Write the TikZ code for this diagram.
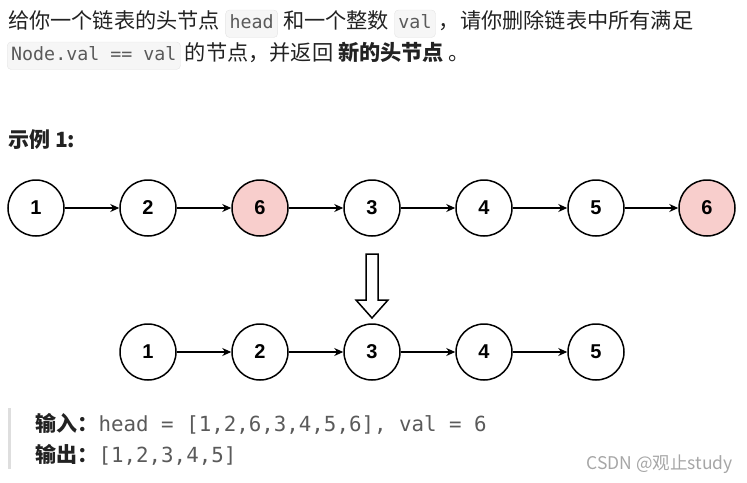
\documentclass[tikz,border=0pt]{standalone}
\usepackage{fontspec}
\setmainfont{Liberation Sans}
\setmonofont{DejaVu Sans Mono}
\newfontfamily\cjk{Noto Sans CJK SC}
\usetikzlibrary{positioning}
\usetikzlibrary{arrows.meta}
\definecolor{txt}{HTML}{222222}
\definecolor{codebg}{HTML}{F6F6F6}
\definecolor{codeln}{HTML}{E4E4E4}
\definecolor{codetx}{HTML}{5A5A5A}
\definecolor{delfill}{HTML}{F8CECC}
\tikzset{
  listnode/.style={circle,draw,line width=1.5pt,minimum size=56pt,
    inner sep=0pt,font=\fontsize{20}{20}\selectfont\bfseries},
  delnode/.style={listnode,fill=delfill},
  link/.style={-{Stealth[length=9pt,width=8pt]},line width=1.4pt},
  words/.style={inner sep=0pt,text=txt,font=\fontsize{21.2}{24}\cjk},
  codebox/.style={draw=codeln,fill=codebg,rounded corners=4pt,
    inner xsep=4pt,inner ysep=5pt,text height=13pt,text depth=4.5pt,
    text=codetx,font=\fontsize{18.3}{18}\ttfamily}
}

\begin{document}
\begin{tikzpicture}[x=1pt,y=-1pt]
    \useasboundingbox (0,0) rectangle (747,482);
    % Problem text
    \node[words,anchor=base west] (t1) at (8,28) {给你一个链表的头节点};
    \node[codebox,base right=5pt of t1] (c1) {head};
    \node[words,base right=5pt of c1] (t2) {和一个整数};
    \node[codebox,base right=5pt of t2] (c2) {val};
    \node[words,base right=3pt of c2] (t3) {，请你删除链表中所有满足};
    \node[codebox,anchor=base west] (c3) at (7,60) {Node.val == val};
    \node[words,base right=4pt of c3] (t4)
      {的节点，并返回\ \textbf{新的头节点}\ 。};
    \node[words,anchor=base west,font=\fontsize{21}{24}\cjk\bfseries]
      (ex) at (8,147) {示例 1:};
    % Input list
    \foreach \v/\x/\s [count=\i] in
      {1/36/listnode,2/148/listnode,6/260/delnode,3/372/listnode,
       4/484/listnode,5/596/listnode,6/707/delnode}
      \node[\s] (a\i) at (\x,208) {\v};
    \foreach \i/\j in {1/2,2/3,3/4,4/5,5/6,6/7}
      \draw[link] (a\i) -- (a\j);
    % Hollow arrow
    \draw[line width=1.5pt,line join=miter]
      (366,254) -- (378,254) -- (378,300) -- (388,300)
      -- (372,318) -- (356,300) -- (366,300) -- cycle;
    % Output list
    \foreach \v/\x [count=\i] in {1/148,2/260,3/372,4/484,5/596}
      \node[listnode] (b\i) at (\x,352) {\v};
    \foreach \i/\j in {1/2,2/3,3/4,4/5}
      \draw[link] (b\i) -- (b\j);
    % Example block
    \fill[black!13] (8,408) rectangle (11,469);
    \node[words,anchor=base west,font=\fontsize{21}{24}\cjk\bfseries]
      (in) at (35,431) {输入：};
    \node[inner sep=0pt,text=codetx,font=\fontsize{20.8}{20}\ttfamily,
      base right=0pt of in] (inv) {head = [1,2,6,3,4,5,6], val = 6};
    \node[words,anchor=base west,font=\fontsize{21}{24}\cjk\bfseries]
      (out) at (35,462) {输出：};
    \node[inner sep=0pt,text=codetx,font=\fontsize{20.8}{20}\ttfamily,
      base right=0pt of out] (outv) {[1,2,3,4,5]};
    \node[inner sep=0pt,text=black!35,font=\fontsize{17.5}{18}\cjk,
      anchor=base east] (mark) at (733,469) {CSDN @观止study};
\end{tikzpicture}
\end{document}
